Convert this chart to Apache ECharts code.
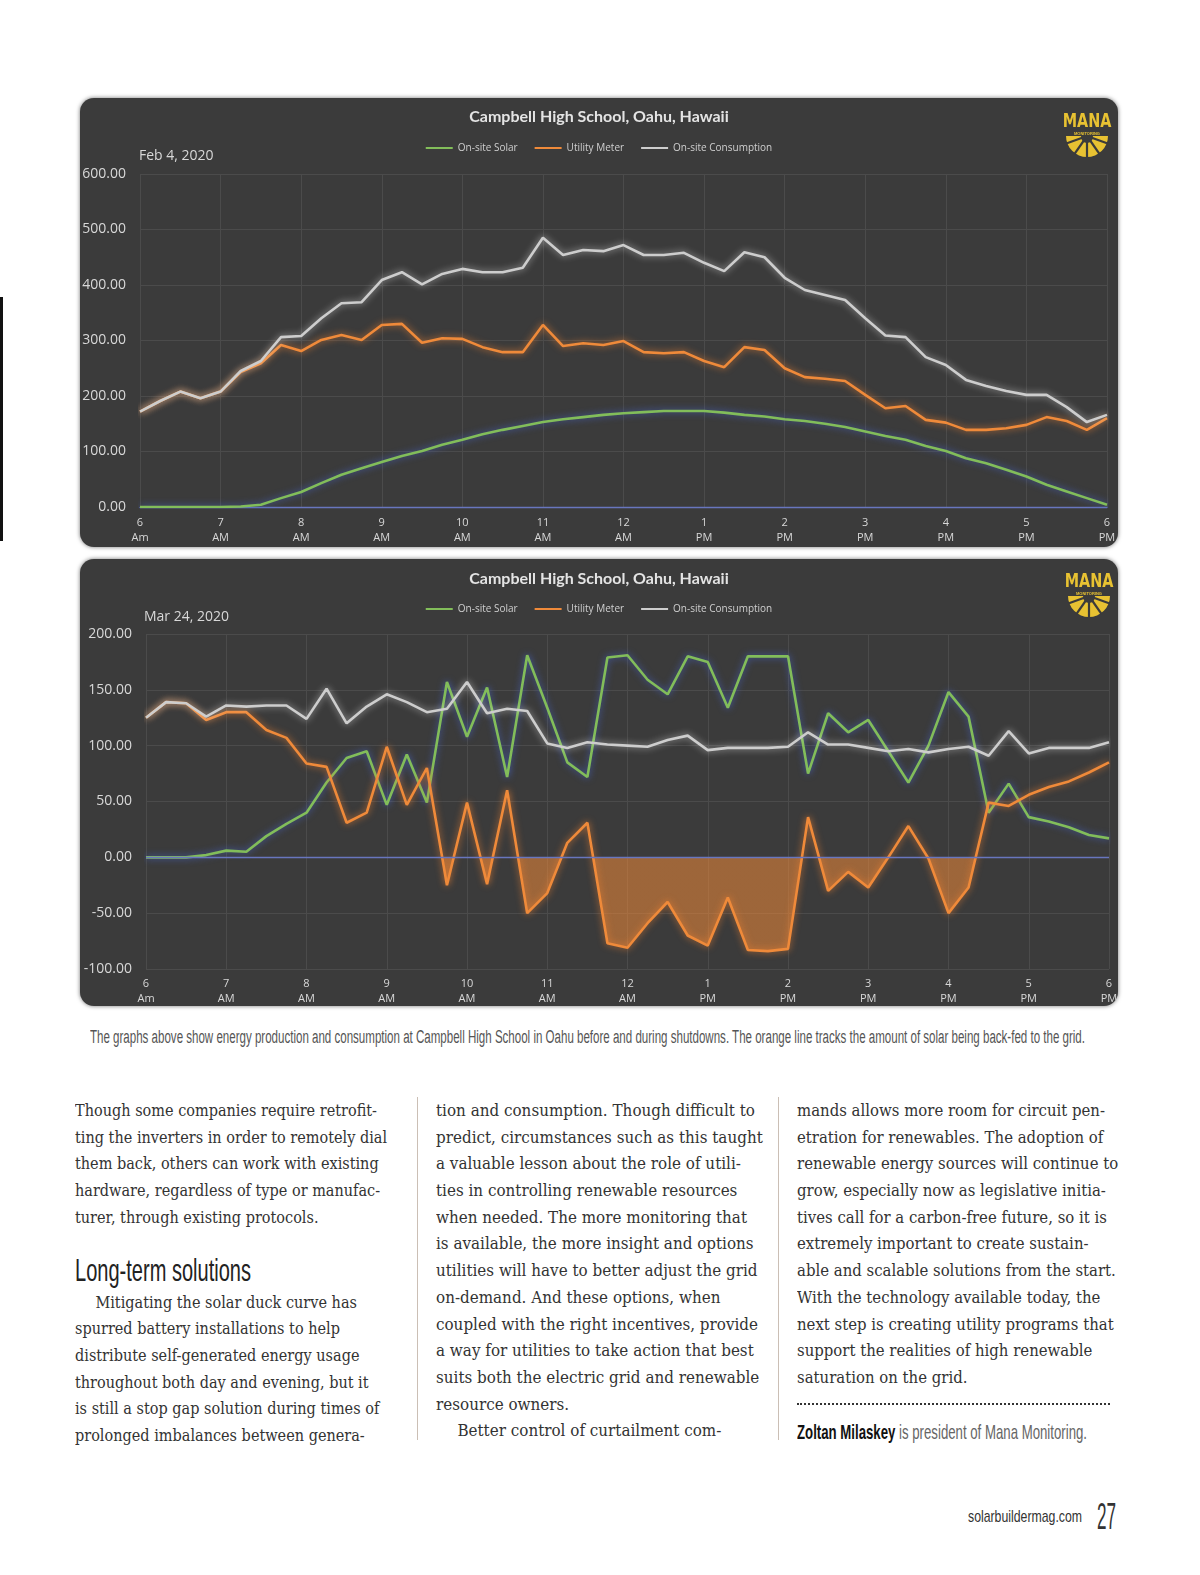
<!DOCTYPE html>
<html><head><meta charset="utf-8">
<script src="https://cdn.jsdelivr.net/npm/echarts/dist/echarts.min.js"></script>
<style>
html,body{margin:0;padding:0;background:#fff;}
body{width:1200px;height:1575px;position:relative;overflow:hidden;}
#bar{position:absolute;left:0;top:297px;width:3px;height:244px;background:#111;}
.panel{position:absolute;left:80px;width:1038px;background:#3b3b3b;border-radius:14px;box-shadow:0 0 4px rgba(0,0,0,0.55);overflow:hidden;}
#p1{top:98px;height:449px;}
#p2{top:559px;height:447px;}
.chart{width:100%;height:100%;}
.fit{position:absolute;white-space:nowrap;display:inline-block;transform-origin:left center;}
#caption{left:90px;top:1026px;font-family:'Liberation Sans Narrow','Liberation Sans',sans-serif;font-size:18px;color:#555;line-height:22px;font-weight:300;}
.col{position:absolute;font-family:'DejaVu Serif',serif;font-size:17px;color:#333;}
.ln{white-space:nowrap;height:26.7px;line-height:26.7px;transform-origin:left center;}
.vr{position:absolute;top:1097px;width:1px;height:343px;background:#cbbfb5;}
#heading{left:75px;top:1251px;font-family:'Liberation Sans Narrow','Liberation Sans',sans-serif;font-size:32px;color:#222;line-height:38px;}
#dots{position:absolute;left:797px;top:1403px;width:313px;border-top:2px dotted #333;}
#author{left:797px;top:1419px;font-family:'Liberation Sans Narrow','Liberation Sans',sans-serif;font-size:21px;color:#666;line-height:26px;}
#author b{color:#111;}
#site{left:968px;top:1507px;font-family:'Liberation Sans Narrow','Liberation Sans',sans-serif;font-size:17px;color:#333;line-height:20px;}
#page{left:1097px;top:1497px;font-family:'Liberation Sans Narrow','Liberation Sans',sans-serif;font-size:36px;color:#333;line-height:40px;font-weight:300;}
</style></head>
<body>
<div id="bar"></div>
<div class="panel" id="p1"><div id="c1" class="chart"></div></div>
<div class="panel" id="p2"><div id="c2" class="chart"></div></div>

<div id="caption" class="fit">The graphs above show energy production and consumption at Campbell High School in Oahu before and during shutdowns. The orange line tracks the amount of solar being back-fed to the grid.</div>

<div class="vr" style="left:417px"></div>
<div class="vr" style="left:778px"></div>

<div class="col" id="col1a" style="left:75px;top:1097px">
<div class="ln">Though some companies require retrofit-</div>
<div class="ln">ting the inverters in order to remotely dial</div>
<div class="ln">them back, others can work with existing</div>
<div class="ln">hardware, regardless of type or manufac-</div>
<div class="ln">turer, through existing protocols.</div>
</div>
<div id="heading" class="fit">Long-term solutions</div>
<div class="col" id="col1b" style="left:75px;top:1288.5px">
<div class="ln"><span style="padding-left:24px"></span>Mitigating the solar duck curve has</div>
<div class="ln">spurred battery installations to help</div>
<div class="ln">distribute self-generated energy usage</div>
<div class="ln">throughout both day and evening, but it</div>
<div class="ln">is still a stop gap solution during times of</div>
<div class="ln">prolonged imbalances between genera-</div>
</div>

<div class="col" id="col2" style="left:436px;top:1097px">
<div class="ln">tion and consumption. Though difficult to</div>
<div class="ln">predict, circumstances such as this taught</div>
<div class="ln">a valuable lesson about the role of utili-</div>
<div class="ln">ties in controlling renewable resources</div>
<div class="ln">when needed. The more monitoring that</div>
<div class="ln">is available, the more insight and options</div>
<div class="ln">utilities will have to better adjust the grid</div>
<div class="ln">on-demand. And these options, when</div>
<div class="ln">coupled with the right incentives, provide</div>
<div class="ln">a way for utilities to take action that best</div>
<div class="ln">suits both the electric grid and renewable</div>
<div class="ln">resource owners.</div>
<div class="ln"><span style="padding-left:24px"></span>Better control of curtailment com-</div>
</div>

<div class="col" id="col3" style="left:797px;top:1097px">
<div class="ln">mands allows more room for circuit pen-</div>
<div class="ln">etration for renewables. The adoption of</div>
<div class="ln">renewable energy sources will continue to</div>
<div class="ln">grow, especially now as legislative initia-</div>
<div class="ln">tives call for a carbon-free future, so it is</div>
<div class="ln">extremely important to create sustain-</div>
<div class="ln">able and scalable solutions from the start.</div>
<div class="ln">With the technology available today, the</div>
<div class="ln">next step is creating utility programs that</div>
<div class="ln">support the realities of high renewable</div>
<div class="ln">saturation on the grid.</div>
</div>
<div id="dots"></div>
<div id="author" class="fit"><b>Zoltan Milaskey</b> is president of Mana Monitoring.</div>
<div id="site" class="fit">solarbuildermag.com</div>
<div id="page" class="fit">27</div>

<script>
// ---------- text fitting (run first) ----------
function fitEl(el, w) {
  el.style.transform = 'none';
  const r = el.getBoundingClientRect().width;
  el.style.transform = 'scaleX(' + (w / r) + ')';
}
function fitCol(id, w) {
  const col = document.getElementById(id);
  const lines = col.querySelectorAll('.ln');
  const probe = document.createElement('span');
  probe.textContent = lines[0].textContent;
  probe.style.whiteSpace = 'nowrap';
  col.appendChild(probe);
  const s = w / probe.getBoundingClientRect().width;
  col.removeChild(probe);
  lines.forEach(function (l) { l.style.transform = 'scaleX(' + s + ')'; });
  return s;
}
try {
  fitEl(document.getElementById('caption'), 995);
  fitEl(document.getElementById('heading'), 176);
  fitEl(document.getElementById('author'), 290);
  fitEl(document.getElementById('site'), 114);
  fitEl(document.getElementById('page'), 19);
  const s1 = fitCol('col1a', 302);
  document.querySelectorAll('#col1b .ln').forEach(function (l) { l.style.transform = 'scaleX(' + s1 + ')'; });
  fitCol('col2', 319);
  fitCol('col3', 308);
} catch (e) { console.log(e); }

// ---------- data ----------
const times = ['6:00','6:15','6:30','6:45','7:00','7:15','7:30','7:45','8:00','8:15','8:30','8:45',
 '9:00','9:15','9:30','9:45','10:00','10:15','10:30','10:45','11:00','11:15','11:30','11:45',
 '12:00','12:15','12:30','12:45','13:00','13:15','13:30','13:45','14:00','14:15','14:30','14:45',
 '15:00','15:15','15:30','15:45','16:00','16:15','16:30','16:45','17:00','17:15','17:30','17:45','18:00'];
const hourLabels = ['6\nAm','7\nAM','8\nAM','9\nAM','10\nAM','11\nAM','12\nAM','1\nPM','2\nPM','3\nPM','4\nPM','5\nPM','6\nPM'];
const seriesNames = ['On-site Solar','Utility Meter','On-site Consumption'];
const chartTitle = 'Campbell High School, Oahu, Hawaii';

// Feb 4, 2020
const solarFeb = [0,0,0,0,0,1,4,16,27,43,58,70,81,92,101,112,121,131,139,146,153,158,162,166,169,171,173,173,173,170,166,163,158,155,150,144,136,128,121,110,101,88,79,67,55,40,28,16,4];
const utilityFeb = [172,191,208,196,208,243,259,292,281,301,310,301,328,330,296,304,303,288,279,279,328,290,295,292,299,279,277,279,263,252,288,283,250,234,231,227,202,178,182,157,152,139,139,142,148,162,155,139,160];
const consumptionFeb = [172,191,208,196,208,245,263,306,308,340,367,369,409,423,401,420,429,423,423,431,485,454,463,461,472,454,454,458,440,425,459,450,413,391,382,373,340,309,306,270,256,229,218,209,202,202,180,153,166];

// Mar 24, 2020
const solarMar = [0,0,0,2,6,5,19,30,40,67,89,95,47,92,49,157,108,152,72,181,134,85,72,179,181,159,146,180,175,134,180,180,180,75,129,112,123,95,67,100,148,126,40,66,36,32,27,20,17];
const utilityMar = [125,139,138,123,130,130,114,107,84,81,31,40,99,47,80,-25,49,-24,60,-50,-32,13,31,-77,-81,-59,-40,-70,-79,-36,-83,-84,-82,36,-30,-13,-27,0,28,-1,-50,-27,49,46,56,63,68,76,85];
const consumptionMar = [125,139,138,126,136,135,136,136,124,151,120,135,146,139,130,133,157,129,133,131,102,98,103,101,100,99,105,109,96,98,98,98,99,112,101,101,98,95,97,94,97,99,91,113,93,98,98,98,103];

// ---------- styling ----------
const C_GREEN = '#82bd5a', C_ORANGE = '#ef8a3a', C_GRAY = '#cdcdcd', C_TEXT = '#d8d8d8';
const YELLOW = '#e8c232';

function logo(cx, cy) {
  const rays = [];
  [20, 55, 90, 125, 160].forEach(function (a) {
    const r = a * Math.PI / 180;
    rays.push({type: 'line', shape: {x1: 0, y1: 0, x2: 22 * Math.cos(r), y2: 22 * Math.sin(r)},
      style: {stroke: '#3b3b3b', lineWidth: 2.2}});
  });
  return {
    type: 'group', x: cx, y: cy,
    children: [
      {type: 'sector', shape: {cx: 0, cy: 0, r: 21, startAngle: 0, endAngle: Math.PI}, style: {fill: YELLOW}},
      ...rays,
      {type: 'circle', shape: {cx: 0, cy: 1, r: 6}, style: {fill: '#3b3b3b'}},
      {type: 'text', x: 0, y: -14, scaleX: 0.72, style: {text: 'MANA', fill: YELLOW, font: 'bold 20px "DejaVu Sans", sans-serif', align: 'center', verticalAlign: 'middle'}},
      {type: 'text', x: 0, y: -2, style: {text: 'MONITORING', fill: YELLOW, font: 'bold 4px sans-serif', align: 'center', verticalAlign: 'middle'}}
    ]
  };
}

function lineSeries(name, data, color, glow, width) {
  return {
    name: name, type: 'line', data: data, showSymbol: false, symbol: 'none',
    itemStyle: {color: color},
    lineStyle: {color: color, width: width || 2.6, shadowBlur: 7, shadowColor: glow},
    z: 3
  };
}

function makeOption(cfg) {
  const series = [
    lineSeries(seriesNames[0], cfg.solar, C_GREEN, 'rgba(70,100,200,0.9)'),
    lineSeries(seriesNames[1], cfg.utility, C_ORANGE, 'rgba(240,130,50,0.85)'),
    lineSeries(seriesNames[2], cfg.consumption, C_GRAY, 'rgba(255,255,255,0.6)')
  ];
  if (cfg.zeroLine) {
    series[0].markLine = {silent: true, symbol: 'none', label: {show: false}, animation: false,
      lineStyle: {color: '#6876be', width: 1.3, type: 'solid', shadowBlur: 0}, data: [{yAxis: 0}]};
  }
  if (cfg.fillNegative) {
    series[1].areaStyle = {opacity: 0.55, origin: 0};
  }
  const opt = {
    animation: false,
    backgroundColor: 'transparent',
    title: {text: chartTitle, left: 'center', top: cfg.titleTop,
      textStyle: {color: '#e4e4e4', fontFamily: 'Lato', fontWeight: 'bold', fontSize: 16}},
    legend: {top: cfg.legendTop, left: 'center', icon: 'rect', itemWidth: 27, itemHeight: 2, itemGap: 17,
      data: seriesNames,
      textStyle: {color: '#cfcfcf', fontSize: 10, fontFamily: 'Open Sans'}},
    grid: Object.assign({containLabel: false, outerBoundsMode: 'none'}, cfg.grid),
    xAxis: {
      type: 'category', boundaryGap: false, data: times,
      axisLine: {show: cfg.axisLineShow, lineStyle: {color: '#6876be', width: 1.3}},
      axisTick: {show: false},
      axisLabel: {interval: 3, color: C_TEXT, fontSize: 11, lineHeight: 15, fontFamily: 'Open Sans', margin: cfg.xMargin,
        formatter: function (v, i) { return hourLabels[Math.round(i / 4)]; }},
      splitLine: {show: true, interval: 3, lineStyle: {color: '#4b4b4b', width: 1}}
    },
    yAxis: {
      type: 'value', min: cfg.min, max: cfg.max, interval: cfg.interval,
      axisLine: {show: false}, axisTick: {show: false},
      axisLabel: {color: C_TEXT, fontSize: 14, fontFamily: 'Open Sans', margin: 14,
        formatter: function (v) { return v.toFixed(2); }},
      splitLine: {lineStyle: {color: '#4b4b4b', width: 1}}
    },
    graphic: [
      {type: 'text', x: cfg.dateX, y: cfg.dateY, style: {text: cfg.date, fill: C_TEXT, font: '14px "Open Sans", sans-serif', verticalAlign: 'middle'}},
      logo(cfg.logoX, cfg.logoY)
    ],
    series: series
  };
  if (cfg.fillNegative) {
    opt.visualMap = {show: false, type: 'piecewise', seriesIndex: 1, dimension: 1,
      pieces: [{gte: cfg.min, lt: 0, color: C_ORANGE}, {gte: 0, lte: cfg.max, color: 'rgba(239,138,58,0)'}]};
  }
  return opt;
}

const ch1 = echarts.init(document.getElementById('c1'), null, {renderer: 'canvas'});
ch1.setOption(makeOption({
  solar: solarFeb, utility: utilityFeb, consumption: consumptionFeb,
  titleTop: 6, legendTop: 40, date: 'Feb 4, 2020', dateX: 59, dateY: 58,
  grid: {left: 60, right: 11, top: 76, bottom: 40},
  min: 0, max: 600, interval: 100, axisLineShow: true, xMargin: 8,
  logoX: 1007, logoY: 38
}));

const ch2 = echarts.init(document.getElementById('c2'), null, {renderer: 'canvas'});
ch2.setOption(makeOption({
  solar: solarMar, utility: utilityMar, consumption: consumptionMar,
  titleTop: 7, legendTop: 40, date: 'Mar 24, 2020', dateX: 64, dateY: 58,
  grid: {left: 66, right: 9, top: 75, bottom: 37},
  min: -100, max: 200, interval: 50, axisLineShow: false, xMargin: 7,
  zeroLine: true, fillNegative: true,
  logoX: 1009, logoY: 37
}));
</script>
</body></html>
